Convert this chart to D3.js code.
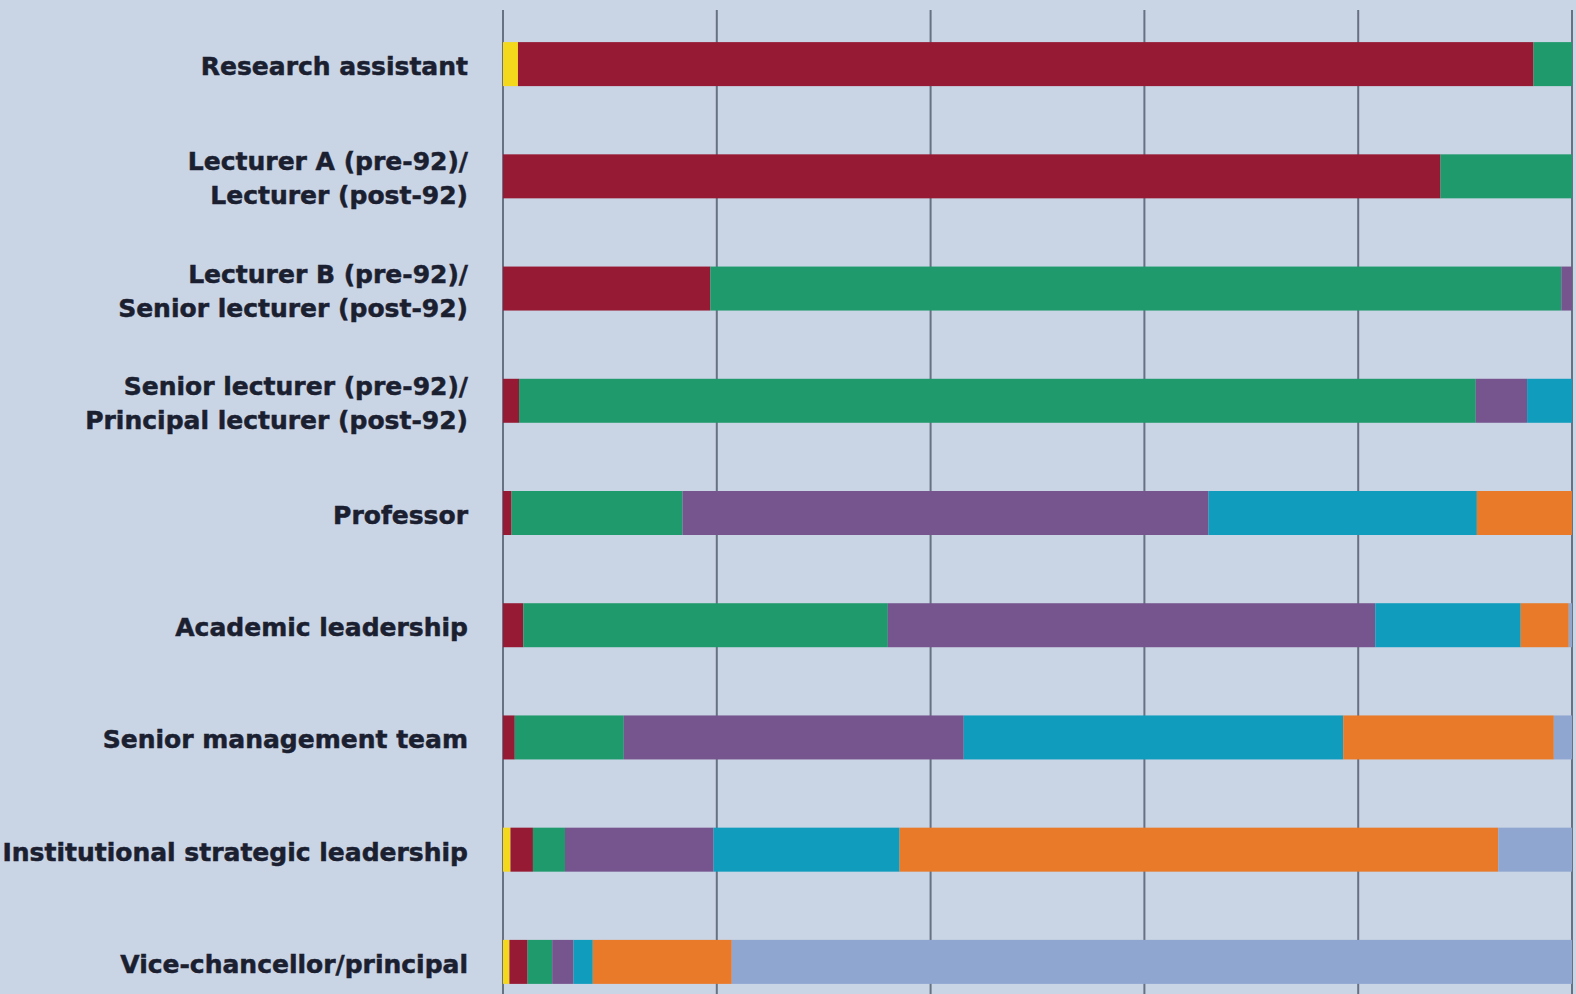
<!DOCTYPE html>
<html>
<head>
<meta charset="utf-8">
<script src="https://cdn.jsdelivr.net/npm/d3@7"></script>
<style>
  html, body { margin: 0; padding: 0; background: #c9d4e4; overflow: hidden; }
  svg { display: block; }
  .label { font-family: 'DejaVu Sans', Verdana, sans-serif; font-weight: bold; font-size: 25px; fill: #1b2030; stroke: #1b2030; stroke-width: 0.5px; }
</style>
</head>
<body>
<svg width="1576" height="994"></svg>
<script>
// job levels, top to bottom (\n = line break in the label)
var categories = [
    'Research assistant',
    'Lecturer A (pre-92)/\nLecturer (post-92)',
    'Lecturer B (pre-92)/\nSenior lecturer (post-92)',
    'Senior lecturer (pre-92)/\nPrincipal lecturer (post-92)',
    'Professor',
    'Academic leadership',
    'Senior management team',
    'Institutional strategic leadership',
    'Vice-chancellor/principal'
]

// share (%) of each level in each band left to right
var seriesKeys = ['s1', 's2', 's3', 's4', 's5', 's6', 's7']
var s1 = [1.4, 0, 0, 0, 0, 0, 0, 0.7, 0.6]
var s2 = [95.0, 87.7, 19.4, 1.5, 0.8, 1.9, 1.1, 2.1, 1.7]
var s3 = [3.6, 12.3, 79.6, 89.5, 16.0, 34.1, 10.2, 3.0, 2.3]
var s4 = [0, 0, 1.0, 4.8, 49.2, 45.6, 31.8, 13.9, 2.0]
var s5 = [0, 0, 0, 4.2, 25.1, 13.6, 35.5, 17.4, 1.8]
var s6 = [0, 0, 0, 0, 8.9, 4.5, 19.7, 56.0, 13.0]
var s7 = [0, 0, 0, 0, 0, 0.3, 1.7, 6.9, 78.6]

var colors = ['#f4d81c', '#961a34', '#1f9a6c', '#76558f', '#0f9cbd', '#e87a2a', '#8fa6d1']
var gridTicks = [0, 20, 40, 60, 80, 100]

var svg = d3.select('svg')
var width = +svg.attr('width')
var height = +svg.attr('height')

var rows = categories.map(function(c, i) {
    return { cat: c, s1: s1[i], s2: s2[i], s3: s3[i], s4: s4[i], s5: s5[i], s6: s6[i], s7: s7[i] }
})

var xScale = d3.scaleLinear()
    .domain([0, 100])
    .range([503, 1572])

var yScale = d3.scaleBand()
    .domain(categories)
    .range([8, 1018])
    .paddingInner(0.608)
    .paddingOuter(0.304)

// vertical grid lines
svg.append('g')
    .selectAll('line')
    .data(gridTicks)
    .enter()
    .append('line')
    .attr('x1', d => xScale(d))
    .attr('x2', d => xScale(d))
    .attr('y1', 10)
    .attr('y2', height)
    .attr('stroke', '#687184')
    .attr('stroke-width', 2)

var stack = d3.stack().keys(seriesKeys)
var layers = stack(rows)

svg.append('g')
    .selectAll('g')
    .data(layers)
    .enter()
    .append('g')
    .attr('fill', (d, i) => colors[i])
    .selectAll('rect')
    .data(d => d.filter(p => p[1] - p[0] > 0))
    .enter()
    .append('rect')
    .attr('x', d => xScale(d[0]))
    .attr('width', d => xScale(d[1]) - xScale(d[0]))
    .attr('y', d => yScale(d.data.cat))
    .attr('height', yScale.bandwidth())

// category labels, right aligned against the bars
var labels = svg.append('g')
    .selectAll('text')
    .data(categories)
    .enter()
    .append('text')
    .attr('class', 'label')
    .attr('text-anchor', 'end')
    .attr('x', 468)
    .attr('y', d => yScale(d) + yScale.bandwidth() / 2)

labels.each(function(d) {
    var lines = d.split('\n')
    var t = d3.select(this)
    var cy = +t.attr('y')
    lines.forEach(function(line, j) {
        var off = lines.length === 1 ? 11 : (j === 0 ? -6 : 28)
        t.append('tspan')
            .attr('x', 468)
            .attr('y', cy + off)
            .text(line)
    })
})
</script>
</body>
</html>
